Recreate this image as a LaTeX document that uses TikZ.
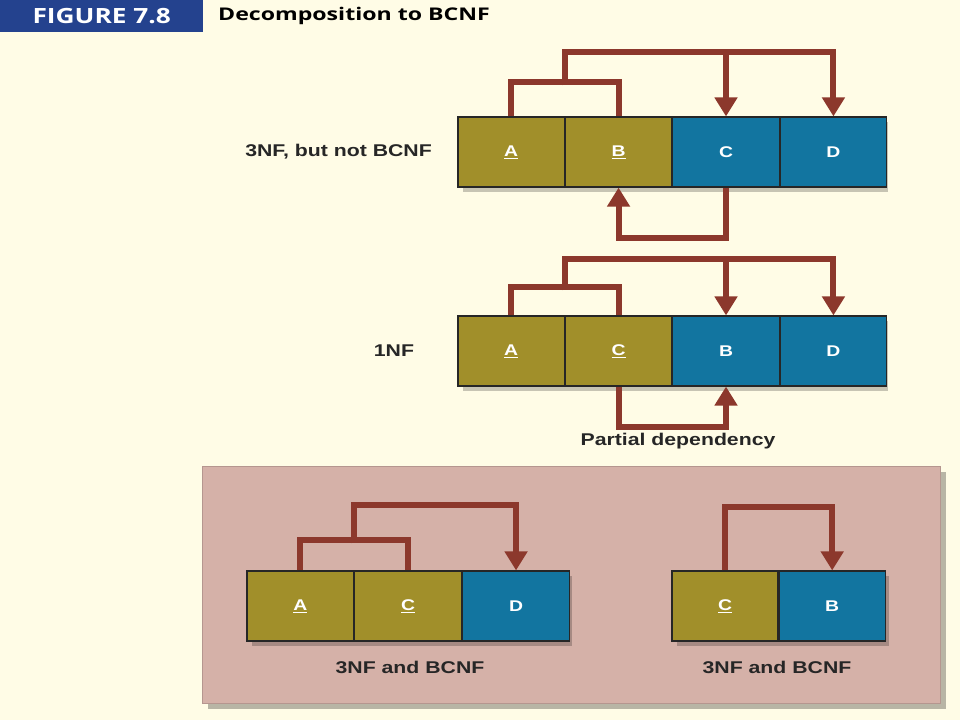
\documentclass[tikz,border=0pt]{standalone}
\usepackage{fontspec}
\setmainfont{Liberation Sans}
\newfontfamily\headfont{Open Sans}
\usetikzlibrary{arrows.meta,positioning}
\definecolor{bgc}{RGB}{255,252,230}
\definecolor{headblue}{RGB}{36,66,142}
\definecolor{olivec}{RGB}{161,143,42}
\definecolor{bluec}{RGB}{18,117,160}
\definecolor{arrowc}{RGB}{140,56,44}
\definecolor{panelc}{RGB}{213,177,168}
\newcommand\wx[1]{\scalebox{1.25}[1]{#1}}
\newcommand\ulet[1]{\wx{\underline{#1}}}
\tikzset{
  cellbase/.style={draw=black!85,line width=1.2pt,minimum height=70pt,inner sep=0pt,text=white,
    font=\fontsize{15.5}{17}\selectfont\bfseries},
  olivecell/.style={cellbase,fill=olivec,minimum width=#1},
  bluecell/.style={cellbase,fill=bluec,minimum width=#1},
  dep/.style={draw=arrowc,line width=6pt,line join=miter},
  deptip/.style={dep,-{Triangle[width=22pt,length=19pt]}},
  lbl/.style={font=\fontsize{17}{19}\selectfont\bfseries,text=black!85,inner sep=0pt},
  shadowbox/.style={fill=black,opacity=0.22}
}
\begin{document}
\begin{tikzpicture}[x=1pt,y=-1pt]
\fill[bgc] (0,0) rectangle (960,720);
\useasboundingbox (0,0) rectangle (960,720);
% header
\node[fill=headblue,minimum width=203pt,minimum height=32pt,inner sep=0pt,anchor=north west,
  text=white,font=\headfont\fontsize{21}{23}\selectfont\bfseries] (fig) at (0,0) {\wx{FIGURE 7.8}};
\node[anchor=west,inner sep=0pt,font=\headfont\fontsize{17.5}{19}\selectfont\bfseries] (title) at (218,16) {\scalebox{1.32}[1]{Decomposition to BCNF}};

% row 1
\fill[shadowbox] (463,122) rectangle (888,192);
\node[olivecell=106.25pt] (r1a) at (511.1,152) {\ulet{A}};
\node[olivecell=106.25pt,right=0pt of r1a] (r1b) {\ulet{B}};
\node[bluecell=106.25pt,right=0pt of r1b] (r1c) {\wx{C}};
\node[bluecell=106.25pt,right=0pt of r1c] (r1d) {\wx{D}};
\node[lbl,anchor=east] (l1) at (432,152) {\wx{3NF, but not BCNF}};
\draw[dep] (r1a.north) -- ++(0,-34) -| (r1b.north);
\draw[deptip] ([yshift=31]r1a.north east) -- ([yshift=64]r1a.north east) -| (r1d.north);
\draw[deptip] (r1c.north |- 0,53) -- (r1c.north);
\draw[deptip] (r1c.south) -- ++(0,50) -| (r1b.south);

% row 2
\fill[shadowbox] (463,321) rectangle (888,391);
\node[olivecell=106.25pt] (r2a) at (511.1,351) {\ulet{A}};
\node[olivecell=106.25pt,right=0pt of r2a] (r2c) {\ulet{C}};
\node[bluecell=106.25pt,right=0pt of r2c] (r2b) {\wx{B}};
\node[bluecell=106.25pt,right=0pt of r2b] (r2d) {\wx{D}};
\node[lbl] (l2) at (394,351) {\wx{1NF}};
\draw[dep] (r2a.north) -- ++(0,-28) -| (r2c.north);
\draw[deptip] ([yshift=25]r2a.north east) -- ([yshift=56]r2a.north east) -| (r2d.north);
\draw[deptip] (r2b.north |- 0,260) -- (r2b.north);
\draw[deptip] (r2c.south) -- ++(0,40) -| (r2b.south);
\node[lbl] (pd) at (678,441) {\wx{Partial dependency}};

% bottom panel
\fill[black,opacity=0.28] (208,472) rectangle (946,709);
\node[fill=panelc,draw=panelc!85!black,line width=0.6pt,anchor=north west,minimum width=738pt,minimum height=237pt,inner sep=0pt] (panel) at (202,466) {};

\fill[shadowbox] (252,576) rectangle (572,646);
\node[olivecell=106.67pt] (la) at (300.3,606) {\ulet{A}};
\node[olivecell=106.67pt,right=0pt of la] (lc) {\ulet{C}};
\node[bluecell=106.67pt,right=0pt of lc] (ld) {\wx{D}};
\draw[dep] (la.north) -- ++(0,-30) -| (lc.north);
\draw[deptip] ([yshift=27]la.north east) -- ([yshift=65]la.north east) -| (ld.north);
\node[lbl] (ll) at (410,667) {\wx{3NF and BCNF}};

\fill[shadowbox] (677,576) rectangle (889,646);
\node[olivecell=106pt] (rc) at (725,606) {\ulet{C}};
\node[bluecell=106pt,right=0pt of rc] (rb) {\wx{B}};
\draw[deptip] (rc.north) -- ++(0,-63) -| (rb.north);
\node[lbl] (rl) at (777,667) {\wx{3NF and BCNF}};
\end{tikzpicture}
\end{document}
